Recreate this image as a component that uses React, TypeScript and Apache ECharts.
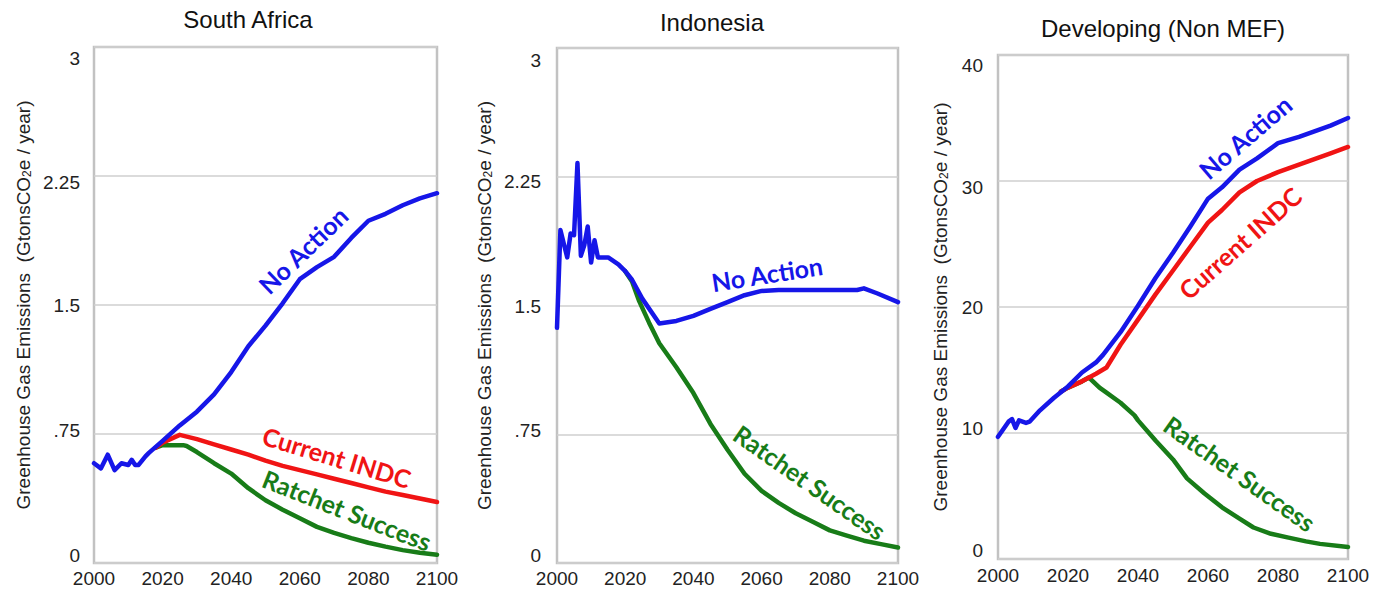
import React, { useEffect, useRef } from "react";
import * as echarts from "echarts";

// ---- axis ticks ----
const YEAR_TICKS = [2000, 2020, 2040, 2060, 2080, 2100];
const GT_TICK_LABELS = ["0", ".75", "1.5", "2.25", "3"];
const DEV_TICK_LABELS = ["0", "10", "20", "30", "40"];

const PANEL_TITLES = ["South Africa", "Indonesia", "Developing (Non MEF)"];
const SCENARIOS = ["No Action", "Current INDC", "Ratchet Success"];

// ---- South Africa (Gt CO2e / year) ----
const saNoActionYears = [2000, 2002, 2004, 2006, 2008, 2010, 2011, 2012, 2013, 2015, 2016, 2020, 2025, 2030, 2035, 2040, 2045, 2050, 2055, 2060, 2065, 2070, 2075, 2080, 2085, 2090, 2095, 2100];
const saNoAction = [0.58, 0.55, 0.63, 0.54, 0.58, 0.57, 0.6, 0.57, 0.57, 0.62, 0.64, 0.71, 0.8, 0.88, 0.98, 1.11, 1.26, 1.38, 1.51, 1.65, 1.72, 1.78, 1.89, 1.99, 2.03, 2.08, 2.12, 2.15];
const saIndcYears = [2018, 2020, 2025, 2030, 2035, 2040, 2045, 2050, 2055, 2060, 2065, 2070, 2075, 2080, 2085, 2090, 2095, 2100];
const saIndc = [0.67, 0.7, 0.745, 0.72, 0.69, 0.66, 0.63, 0.595, 0.565, 0.54, 0.515, 0.49, 0.465, 0.44, 0.415, 0.395, 0.375, 0.355];
const saRatchetYears = [2018, 2020, 2026, 2027, 2030, 2035, 2040, 2045, 2050, 2055, 2060, 2065, 2070, 2075, 2080, 2085, 2090, 2095, 2100];
const saRatchet = [0.67, 0.685, 0.685, 0.68, 0.645, 0.58, 0.52, 0.435, 0.365, 0.31, 0.26, 0.21, 0.175, 0.145, 0.118, 0.095, 0.075, 0.06, 0.048];

// ---- Indonesia (Gt CO2e / year) ----
const idNoActionYears = [2000, 2001, 2002, 2003, 2004, 2005, 2006, 2007, 2008, 2009, 2010, 2011, 2012, 2013, 2015, 2018, 2020, 2022, 2025, 2030, 2035, 2040, 2045, 2050, 2055, 2060, 2065, 2070, 2080, 2088, 2090, 2094, 2100];
const idNoAction = [1.37, 1.94, 1.86, 1.78, 1.92, 1.91, 2.33, 1.79, 1.85, 1.96, 1.75, 1.88, 1.78, 1.78, 1.78, 1.74, 1.7, 1.65, 1.54, 1.395, 1.41, 1.44, 1.48, 1.52, 1.56, 1.585, 1.59, 1.59, 1.59, 1.59, 1.6, 1.57, 1.52];
const idRatchetYears = [2020, 2022, 2024, 2027, 2030, 2035, 2040, 2045, 2050, 2055, 2060, 2065, 2070, 2075, 2080, 2085, 2090, 2095, 2100];
const idRatchet = [1.7, 1.64, 1.53, 1.4, 1.28, 1.14, 0.99, 0.81, 0.66, 0.52, 0.42, 0.35, 0.29, 0.24, 0.19, 0.16, 0.13, 0.11, 0.09];

// ---- Developing, non-MEF (Gt CO2e / year) ----
const devNoActionYears = [2000, 2001, 2002, 2003, 2004, 2005, 2006, 2007, 2008, 2009, 2012, 2016, 2020, 2024, 2028, 2030, 2035, 2040, 2045, 2050, 2055, 2060, 2064, 2069, 2074, 2080, 2086, 2090, 2095, 2100];
const devNoAction = [9.7, 10.1, 10.5, 10.9, 11.1, 10.4, 11.0, 10.9, 10.8, 10.9, 11.8, 12.8, 13.7, 14.8, 15.6, 16.2, 18.0, 20.1, 22.3, 24.3, 26.4, 28.6, 29.5, 30.9, 31.8, 33.0, 33.5, 33.9, 34.4, 35.0];
const devIndcYears = [2018, 2020, 2024, 2026, 2028, 2031, 2035, 2040, 2045, 2050, 2055, 2060, 2064, 2069, 2074, 2080, 2086, 2090, 2095, 2100];
const devIndc = [13.3, 13.6, 14.1, 14.4, 14.7, 15.2, 17.0, 19.0, 21.0, 22.9, 24.8, 26.7, 27.7, 29.1, 30.0, 30.7, 31.3, 31.7, 32.2, 32.7];
const devRatchetYears = [2018, 2020, 2024, 2026, 2029, 2031, 2035, 2039, 2040, 2045, 2050, 2054, 2059, 2064, 2069, 2073, 2078, 2083, 2088, 2092, 2100];
const devRatchet = [13.3, 13.6, 14.1, 14.4, 13.6, 13.2, 12.4, 11.4, 11.0, 9.4, 7.9, 6.4, 5.2, 4.1, 3.2, 2.5, 2.0, 1.7, 1.4, 1.2, 0.95];

const BLUE = "#1616e8";
const RED = "#f01414";
const GREEN = "#187c18";
const SCENARIO_COLORS = [BLUE, RED, GREEN];

const SANS = "'Liberation Sans', Arial, Helvetica, sans-serif";
const LABEL_FONT = "Lato, 'Open Sans', sans-serif";

const zip = (xs: number[], ys: number[]) => xs.map((x, i) => [x, ys[i]]);

// panel geometry (px)
const GRIDS = [
  { left: 94, top: 47, width: 343, height: 516 },
  { left: 557, top: 48, width: 341, height: 515 },
  { left: 998, top: 55, width: 350, height: 504 },
];
const TITLE_POS = [
  { x: 248, y: 7 },
  { x: 712, y: 10 },
  { x: 1163, y: 16 },
];
const NAME_GAPS = [61, 63, 48];
const LABEL_MARGINS = [14, 16, 15];
const X_LABEL_MARGINS = [6, 6, 7];
// vertical nudges of the y tick labels, bottom to top
const TICK_NUDGE = [
  [-8, -4, 0, 6, 11],
  [-8, -4, 1, 5, 12],
  [-9, -5, 0, 6, 10],
];

// scenario labels: [panel, scenario, year, value, angle (deg, counter-clockwise)]
const LINE_LABELS: [number, number, number, number, number][] = [
  [0, 0, 2060.9, 1.82, 44],
  [0, 1, 2070.8, 0.616, -17],
  [0, 2, 2073.8, 0.308, -21.5],
  [1, 0, 2061.6, 1.686, 9],
  [1, 2, 2074.2, 0.471, -35],
  [2, 0, 2070.6, 33.5, 40.6],
  [2, 1, 2069.1, 25.1, 41.5],
  [2, 2, 2069.1, 6.8, -35.4],
];

function tickRich(nudges: number[]) {
  const rich: Record<string, any> = {};
  nudges.forEach((d, i) => {
    rich["t" + i] = {
      fontSize: 19,
      fontFamily: SANS,
      color: "#222",
      padding: d > 0 ? [2 * d, 0, 0, 0] : [0, 0, -2 * d, 0],
    };
  });
  return rich;
}

const nameRich = {
  n: { fontSize: 19, fontFamily: SANS, color: "#222" },
  s: { fontSize: 12, fontFamily: SANS, color: "#222", verticalAlign: "bottom" },
};

export default function App() {
  const ref = useRef<HTMLDivElement>(null);

  useEffect(() => {
    if (!ref.current) return;
    const chart = echarts.init(ref.current, undefined, { renderer: "svg" });

    const panelSeries = [
      [
        [2, zip(saRatchetYears, saRatchet)],
        [1, zip(saIndcYears, saIndc)],
        [0, zip(saNoActionYears, saNoAction)],
      ],
      [
        [2, zip(idRatchetYears, idRatchet)],
        [0, zip(idNoActionYears, idNoAction)],
      ],
      [
        [2, zip(devRatchetYears, devRatchet)],
        [1, zip(devIndcYears, devIndc)],
        [0, zip(devNoActionYears, devNoAction)],
      ],
    ] as [number, number[][]][][];

    const series: any[] = [];
    panelSeries.forEach((list, p) => {
      list.forEach(([s, data]) => {
        series.push({
          type: "line",
          name: SCENARIOS[s],
          xAxisIndex: p,
          yAxisIndex: p,
          data,
          symbol: "none",
          showSymbol: false,
          lineStyle: { color: SCENARIO_COLORS[s], width: 4.5, join: "round", cap: "round" },
          itemStyle: { color: SCENARIO_COLORS[s] },
        });
      });
    });

    const yTickLabels = [GT_TICK_LABELS, GT_TICK_LABELS, DEV_TICK_LABELS];
    const yMax = [3, 3, 40];
    const yStep = [0.75, 0.75, 10];

    chart.setOption({
      animation: false,
      backgroundColor: "#ffffff",
      title: PANEL_TITLES.map((t, i) => ({
        text: t,
        left: TITLE_POS[i].x,
        top: TITLE_POS[i].y,
        textAlign: "center",
        padding: 0,
        textStyle: { fontSize: 24, fontWeight: "normal", fontFamily: SANS, color: "#111" },
      })),
      grid: GRIDS.map((g) => ({
        ...g,
        show: true,
        borderColor: "#c2c2c2",
        borderWidth: 2.5,
        backgroundColor: "#ffffff",
        containLabel: false,
      })),
      xAxis: GRIDS.map((_, i) => ({
        type: "value",
        gridIndex: i,
        min: YEAR_TICKS[0],
        max: YEAR_TICKS[YEAR_TICKS.length - 1],
        interval: 20,
        axisLine: { show: false },
        axisTick: { show: false },
        splitLine: { show: false },
        axisLabel: {
          margin: X_LABEL_MARGINS[i],
          fontSize: 19,
          fontFamily: SANS,
          color: "#222",
          formatter: (v: number) => String(v),
        },
      })),
      yAxis: GRIDS.map((_, i) => ({
        type: "value",
        gridIndex: i,
        min: 0,
        max: yMax[i],
        interval: yStep[i],
        axisLine: { show: false },
        axisTick: { show: false },
        splitLine: { show: true, lineStyle: { color: "#cfcfcf", width: 1.5 } },
        axisLabel: {
          margin: LABEL_MARGINS[i],
          fontSize: 19,
          fontFamily: SANS,
          color: "#222",
          formatter: (v: number) => {
            const k = Math.round(v / yStep[i]);
            return `{t${k}|${yTickLabels[i][k]}}`;
          },
          rich: tickRich(TICK_NUDGE[i]),
        },
        name: "{n|Greenhouse Gas Emissions  (GtonsCO}{s|2}{n|e / year)}",
        nameLocation: "middle",
        nameRotate: 90,
        nameGap: NAME_GAPS[i],
        nameTextStyle: { fontSize: 19, fontFamily: SANS, color: "#222", rich: nameRich },
      })),
      series,
    });

    // scenario labels, anchored in data coordinates
    const graphics = LINE_LABELS.map(([p, s, yr, val, ang]) => {
      const pt = chart.convertToPixel({ gridIndex: p }, [yr, val]) as number[];
      return {
        type: "text",
        x: pt[0],
        y: pt[1],
        rotation: (ang * Math.PI) / 180,
        z: 10,
        style: {
          text: SCENARIOS[s],
          fill: SCENARIO_COLORS[s],
          fontSize: 25,
          fontWeight: "bold",
          fontFamily: LABEL_FONT,
          align: "center",
          verticalAlign: "middle",
        },
      };
    });
    chart.setOption({ graphic: graphics });

    return () => chart.dispose();
  }, []);

  return (
    <div
      ref={ref}
      style={{ position: "fixed", left: 0, top: 0, width: 1386, height: 596, background: "#fff" }}
    />
  );
}
